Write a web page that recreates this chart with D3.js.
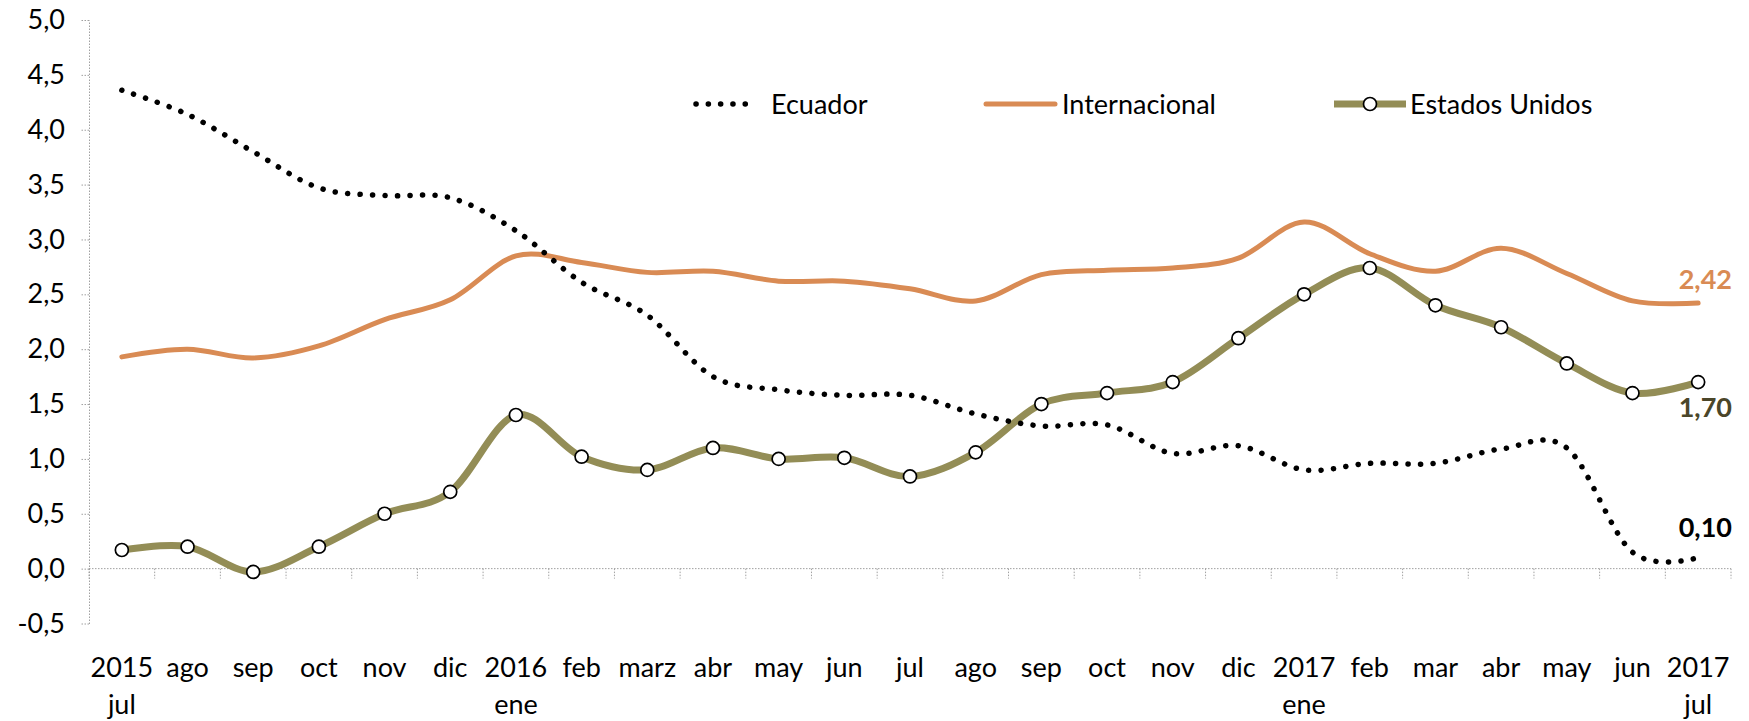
<!DOCTYPE html>
<html>
<head>
<meta charset="utf-8">
<script src="https://cdn.jsdelivr.net/npm/d3@7"></script>
<style>
  body { margin: 0; background: #fff; }
  svg text { font-family: Lato, "Open Sans", sans-serif; fill: #000; }
  .axis path, .axis line { stroke: #a0a0a0; stroke-dasharray: 1.5 1.5; }
  .axis text { font-size: 27px; }
</style>
</head>
<body>
<div id="graph"></div>
<script>
var width = 1749, height = 721;

// categories (two label rows)
var monthTop = ["2015","ago","sep","oct","nov","dic","2016","feb","marz","abr","may","jun","jul",
                "ago","sep","oct","nov","dic","2017","feb","mar","abr","may","jun","2017"];
var monthBottom = ["jul","","","","","","ene","","","","","","","","","","","","ene","","","","","","jul"];

// series
var ecuador = [4.36,4.14,3.80,3.47,3.40,3.38,3.08,2.61,2.31,1.75,1.63,1.58,1.58,1.41,1.30,1.31,1.05,1.12,0.90,0.96,0.96,1.09,1.10,0.15,0.10];
var internacional = [1.93,2.00,1.92,2.03,2.27,2.45,2.85,2.79,2.70,2.71,2.62,2.62,2.55,2.44,2.68,2.72,2.74,2.83,3.16,2.87,2.71,2.92,2.69,2.44,2.42];
var estadosUnidos = [0.17,0.20,-0.03,0.20,0.50,0.70,1.40,1.02,0.90,1.10,1.00,1.01,0.84,1.06,1.50,1.60,1.70,2.10,2.50,2.74,2.40,2.20,1.87,1.60,1.70];

var yTicks = [-0.5,0,0.5,1,1.5,2,2.5,3,3.5,4,4.5,5];
var endLabels = ["2,42", "1,70", "0,10"];

var svg = d3.select("div#graph")
    .append("svg")
    .attr("width", width)
    .attr("height", height);

var x = d3.scaleBand()
    .domain(d3.range(monthTop.length))
    .range([89, 1731])
    .padding(0);
var cx = function(i) { return x(i) + x.bandwidth() / 2; };

var y = d3.scaleLinear()
    .domain([-0.5, 5])
    .range([623.5, 20]);

var fmt = function(d) { return d3.format(".1f")(d).replace(".", ",").replace("\u2212", "-"); };

// y axis
var yAxis = d3.axisLeft(y)
    .tickValues(yTicks)
    .tickSize(9)
    .tickSizeOuter(0)
    .tickPadding(15)
    .tickFormat(fmt);

svg.append("g")
    .attr("class", "axis yaxis")
    .attr("transform", "translate(89,0)")
    .call(yAxis);

// x axis at zero: line and ticks at category boundaries
var xg = svg.append("g").attr("class", "axis xaxis");
xg.append("line")
    .attr("x1", 89).attr("x2", 1731)
    .attr("y1", y(0)).attr("y2", y(0));
xg.selectAll("line.tick")
    .data(d3.range(monthTop.length + 1))
    .enter()
    .append("line")
    .attr("class", "tick")
    .attr("x1", function(d) { return d < monthTop.length ? x(d) : x.range()[1]; })
    .attr("x2", function(d) { return d < monthTop.length ? x(d) : x.range()[1]; })
    .attr("y1", y(0))
    .attr("y2", y(0) + 10);

svg.selectAll("text.mtop")
    .data(monthTop)
    .enter()
    .append("text")
    .attr("class", "mtop")
    .attr("x", function(d, i) { return cx(i); })
    .attr("y", 677)
    .attr("text-anchor", "middle")
    .style("font-size", "27px")
    .text(function(d) { return d; });

svg.selectAll("text.mbot")
    .data(monthBottom)
    .enter()
    .append("text")
    .attr("class", "mbot")
    .attr("x", function(d, i) { return cx(i); })
    .attr("y", 714)
    .attr("text-anchor", "middle")
    .style("font-size", "27px")
    .text(function(d) { return d; });

var line = d3.line()
    .x(function(d, i) { return cx(i); })
    .y(function(d) { return y(d); })
    .curve(d3.curveCardinal.tension(0));

// Internacional
svg.append("path")
    .datum(internacional)
    .attr("fill", "none")
    .attr("stroke", "#D98B54")
    .attr("stroke-width", 5)
    .attr("stroke-linecap", "round")
    .attr("d", line);

// Estados Unidos
svg.append("path")
    .datum(estadosUnidos)
    .attr("fill", "none")
    .attr("stroke", "#938D56")
    .attr("stroke-width", 7)
    .attr("d", line);

svg.selectAll("circle.us")
    .data(estadosUnidos)
    .enter()
    .append("circle")
    .attr("class", "us")
    .attr("cx", function(d, i) { return cx(i); })
    .attr("cy", function(d) { return y(d); })
    .attr("r", 6.5)
    .attr("fill", "#fff")
    .attr("stroke", "#000")
    .attr("stroke-width", 1.7);

// Ecuador (dotted)
svg.append("path")
    .datum(ecuador)
    .attr("fill", "none")
    .attr("stroke", "#000")
    .attr("stroke-width", 5.5)
    .attr("stroke-linecap", "round")
    .attr("stroke-dasharray", "0.1 12.4")
    .attr("d", line);

// end value labels
var last = monthTop.length - 1;
var endData = [
    {t: endLabels[0], v: internacional[last], dy: -14, c: "#D98B54"},
    {t: endLabels[1], v: estadosUnidos[last], dy: 35, c: "#4B4629"},
    {t: endLabels[2], v: ecuador[last], dy: -21, c: "#000"}
];
svg.selectAll("text.endlab")
    .data(endData)
    .enter()
    .append("text")
    .attr("class", "endlab")
    .attr("x", 1732)
    .attr("y", function(d) { return y(d.v) + d.dy; })
    .attr("text-anchor", "end")
    .style("font-size", "27px")
    .style("font-weight", "bold")
    .style("fill", function(d) { return d.c; })
    .text(function(d) { return d.t; });

// legend
var legY = 104;
var leg = svg.append("g").attr("class", "legend");
leg.append("line")
    .attr("x1", 696).attr("x2", 757).attr("y1", legY).attr("y2", legY)
    .attr("stroke", "#000").attr("stroke-width", 5.5)
    .attr("stroke-linecap", "round").attr("stroke-dasharray", "0.1 12.2");
leg.append("text").attr("x", 771).attr("y", legY + 10).style("font-size", "27px").text("Ecuador");

leg.append("line")
    .attr("x1", 986).attr("x2", 1055).attr("y1", legY).attr("y2", legY)
    .attr("stroke", "#D98B54").attr("stroke-width", 5).attr("stroke-linecap", "round");
leg.append("text").attr("x", 1062).attr("y", legY + 10).style("font-size", "27px").text("Internacional");

leg.append("line")
    .attr("x1", 1334).attr("x2", 1406).attr("y1", legY).attr("y2", legY)
    .attr("stroke", "#938D56").attr("stroke-width", 7);
leg.append("circle")
    .attr("cx", 1370).attr("cy", legY).attr("r", 6.5)
    .attr("fill", "#fff").attr("stroke", "#000").attr("stroke-width", 1.7);
leg.append("text").attr("x", 1410).attr("y", legY + 10).style("font-size", "27px").text("Estados Unidos");
</script>
</body>
</html>
